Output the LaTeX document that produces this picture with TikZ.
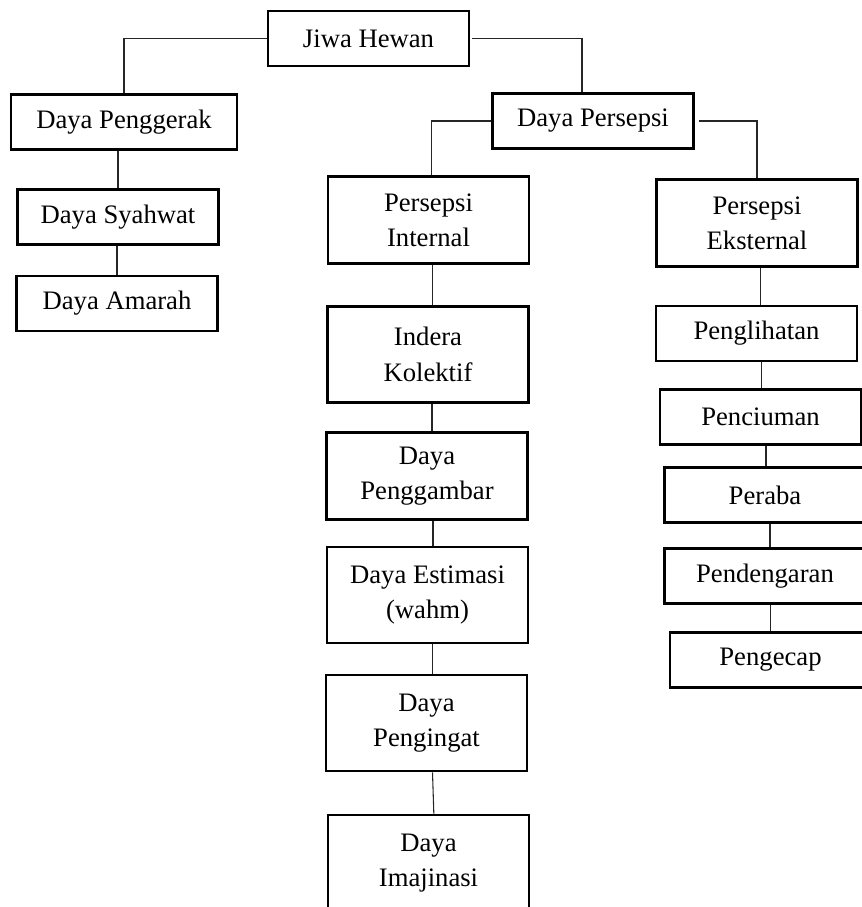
\documentclass[tikz,border=0pt]{standalone}
\usepackage{fontspec}
\setmainfont{Liberation Serif}
\usetikzlibrary{positioning}

\begin{document}
\begin{tikzpicture}[
  x=0.75pt, y=-0.75pt,
  box/.style={draw, line width=1.9pt, minimum width=151pt, minimum height=41.5pt,
    inner sep=0pt, align=center, font=\fontsize{20}{26.5}\selectfont},
  tall/.style={box, minimum height=65pt},
  taller/.style={box, minimum height=72pt},
  link/.style={draw=black!85, line width=0.8pt}
]
  \useasboundingbox (0,0) rectangle (862,907);

  % top
  \node[box] (jiwa) at (368.5,38.5) {Jiwa Hewan};

  % daya penggerak
  \node[box, minimum width=169.5pt] (penggerak) at (124,122) {Daya Penggerak};
  \node[box] (syahwat) at (118,217) {Daya Syahwat};
  \node[box] (amarah) at (117,303.5) {Daya Amarah};

  % daya persepsi
  \node[box] (persepsi) at (593,121) {Daya Persepsi};

  % persepsi internal
  \node[tall] (internal) at (428.5,220) {Persepsi\\Internal};
  \node[taller] (kolektif) at (428,354.5) {Indera\\Kolektif};
  \node[tall] (penggambar) at (427,476) {Daya\\Penggambar};
  \node[taller] (estimasi) at (427.5,595) {Daya Estimasi\\(wahm)};
  \node[taller] (pengingat) at (426.5,723) {Daya\\Pengingat};
  \node[taller] (imajinasi) at (428.5,863) {Daya\\Imajinasi};

  % persepsi eksternal
  \node[tall] (eksternal) at (757,223) {Persepsi\\Eksternal};
  \node[box] (penglihatan) at (756.5,333.5) {Penglihatan};
  \node[box] (penciuman) at (760.5,417) {Penciuman};
  \node[box] (peraba) at (765,495) {Peraba};
  \node[box] (pendengaran) at (765,576) {Pendengaran};
  \node[box] (pengecap) at (770.5,660) {Pengecap};

  % connectors
  \draw[link] (jiwa.west) -| (penggerak.north);
  \draw[link] ([xshift=1.5pt]jiwa.east) -| ([xshift=-8.25pt]persepsi.north);
  \draw[link] (syahwat.north) -- (syahwat.north |- penggerak.south);
  \draw[link] (amarah.north) -- (amarah.north |- syahwat.south);
  \draw[link] (persepsi.west) -| ([xshift=2.5pt]internal.north);
  \draw[link] ([xshift=3pt]persepsi.east) -| (eksternal.north);

  \draw[link] ([xshift=3pt]internal.south) -- ([xshift=3pt]internal.south |- kolektif.north);
  \draw[link] ([xshift=3pt]kolektif.south) -- ([xshift=3pt]kolektif.south |- penggambar.north);
  \draw[link] ([xshift=4.5pt]penggambar.south) -- ([xshift=4.5pt]penggambar.south |- estimasi.north);
  \draw[link] ([xshift=4pt]estimasi.south) -- ([xshift=4pt]estimasi.south |- pengingat.north);
  \draw[link] ([xshift=4.5pt]pengingat.south) -- ([xshift=4pt]imajinasi.north);

  \draw[link] ([xshift=3.25pt]penglihatan.north) -- ([xshift=3.25pt]penglihatan.north |- eksternal.south);
  \draw[link] ([xshift=1pt]penciuman.north) -- ([xshift=1pt]penciuman.north |- penglihatan.south);
  \draw[link] ([xshift=0.75pt]peraba.north) -- ([xshift=0.75pt]peraba.north |- penciuman.south);
  \draw[link] ([xshift=3.75pt]pendengaran.north) -- ([xshift=3.75pt]pendengaran.north |- peraba.south);
  \draw[link] (pengecap.north) -- (pengecap.north |- pendengaran.south);
\end{tikzpicture}
\end{document}
